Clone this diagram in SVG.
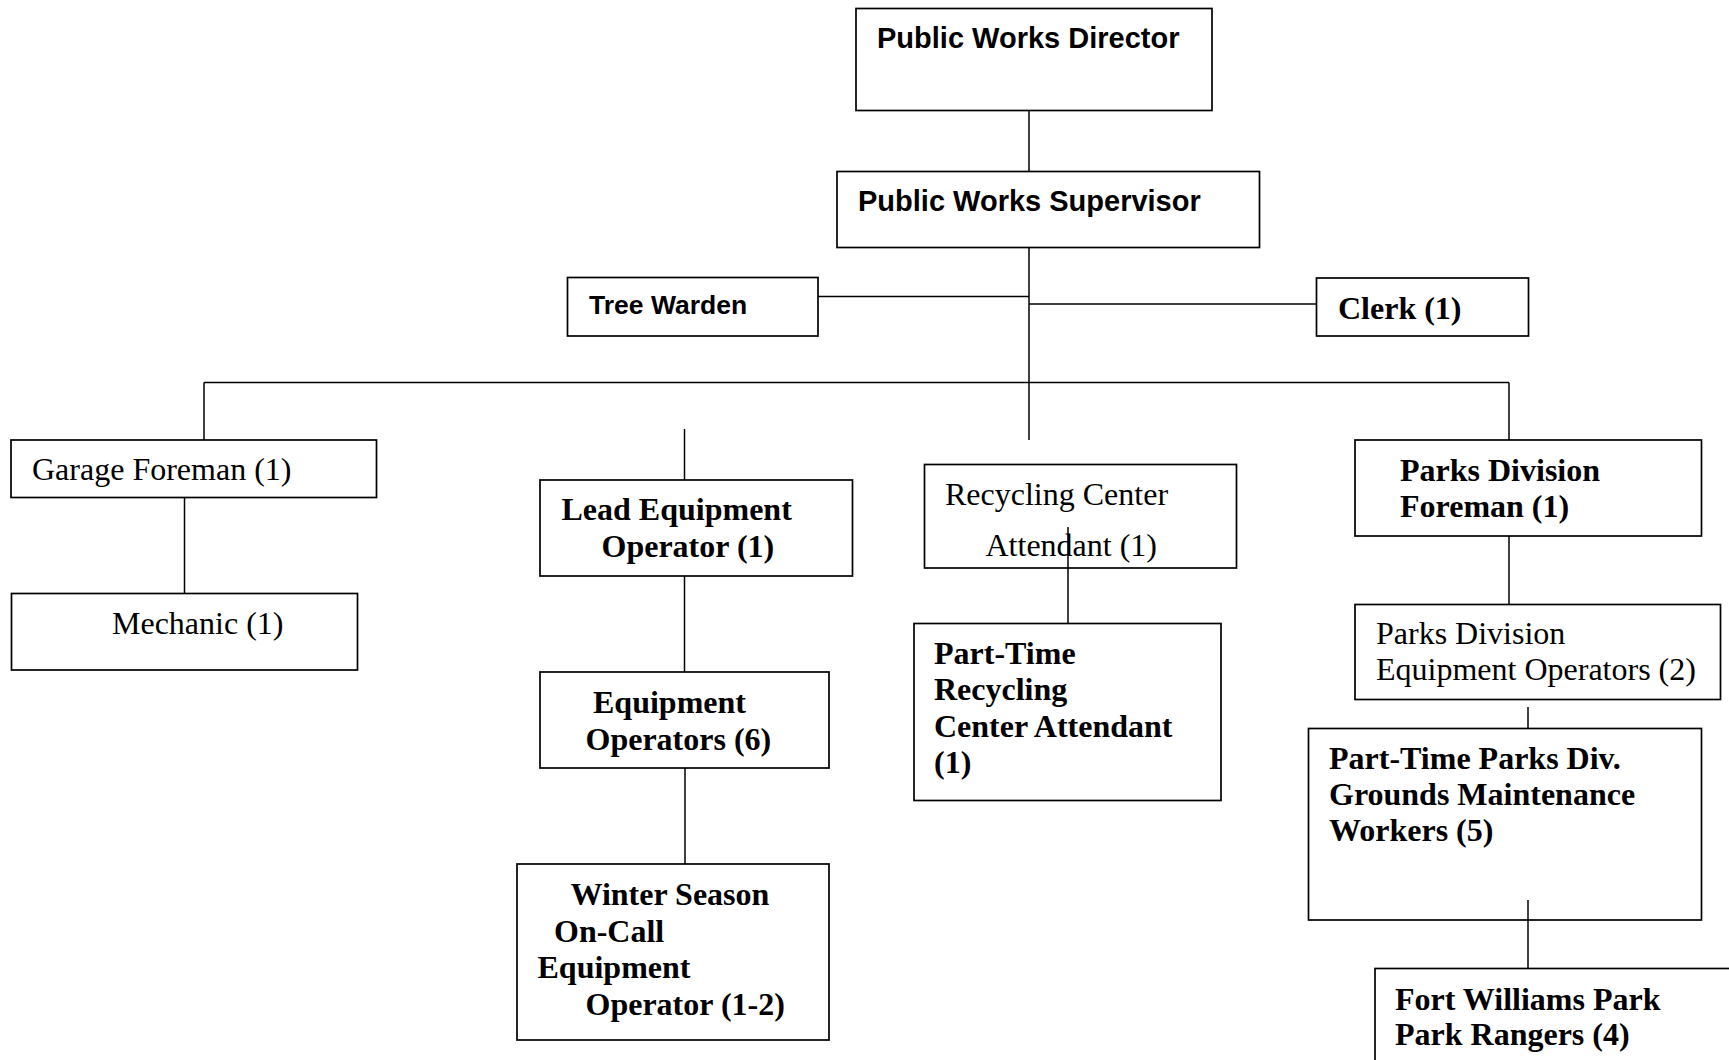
<svg xmlns="http://www.w3.org/2000/svg" width="1729" height="1060" viewBox="0 0 1729 1060">
<style>
.box{fill:#fff;stroke:#000;stroke-width:1.7}
.ln{stroke:#000;stroke-width:1.5;fill:none}
.sans{font-family:"Liberation Sans",Arial,sans-serif;font-weight:bold;fill:#000}
.ser{font-family:"Liberation Serif","Times New Roman",serif;font-size:32px;fill:#000}
.b{font-weight:bold}
</style>
<rect width="1729" height="1060" fill="#fff"/>
<g id="connectors">
<line class="ln" x1="1029" y1="110.5" x2="1029" y2="171.5"/>
<line class="ln" x1="1029" y1="247.5" x2="1029" y2="440"/>
<line class="ln" x1="818" y1="296.5" x2="1029" y2="296.5"/>
<line class="ln" x1="1029" y1="304" x2="1316.5" y2="304"/>
<line class="ln" x1="204" y1="382.5" x2="1509" y2="382.5"/>
<line class="ln" x1="204" y1="382.5" x2="204" y2="440"/>
<line class="ln" x1="1509" y1="382.5" x2="1509" y2="440"/>
<line class="ln" x1="184.5" y1="497.5" x2="184.5" y2="593.5"/>
<line class="ln" x1="684.5" y1="429" x2="684.5" y2="480"/>
<line class="ln" x1="684.5" y1="576" x2="684.5" y2="672"/>
<line class="ln" x1="685" y1="768" x2="685" y2="864"/>
<line class="ln" x1="1509" y1="536" x2="1509" y2="604.5"/>
<line class="ln" x1="1528" y1="707" x2="1528" y2="728.5"/>
</g>
<g id="director">
<rect class="box" x="856" y="8.5" width="356" height="102"/>
<text class="sans" x="877" y="47.5" font-size="29">Public Works Director</text>
</g>
<g id="supervisor">
<rect class="box" x="837" y="171.5" width="422.5" height="76"/>
<text class="sans" x="858" y="211" font-size="29">Public Works Supervisor</text>
</g>
<g id="tree-warden">
<rect class="box" x="567.5" y="277.5" width="250.5" height="58.5"/>
<text class="sans" x="589" y="314" font-size="26.5">Tree Warden</text>
</g>
<g id="clerk">
<rect class="box" x="1316.5" y="278" width="212" height="58"/>
<text class="ser b" x="1338" y="319" font-size="31.5">Clerk (1)</text>
</g>
<g id="garage-foreman">
<rect class="box" x="11" y="440" width="365.5" height="57.5"/>
<text class="ser" x="32" y="480">Garage Foreman (1)</text>
</g>
<g id="mechanic">
<rect class="box" x="11.5" y="593.5" width="346" height="76.5"/>
<text class="ser" x="112" y="633.5">Mechanic (1)</text>
</g>
<g id="lead-equipment-operator">
<rect class="box" x="540" y="480" width="312.5" height="96"/>
<text class="ser b" x="561.5" y="520">Lead Equipment</text>
<text class="ser b" x="601.5" y="556.5">Operator (1)</text>
</g>
<g id="equipment-operators">
<rect class="box" x="540" y="672" width="289" height="96"/>
<text class="ser b" x="593" y="713">Equipment</text>
<text class="ser b" x="585.5" y="750">Operators (6)</text>
</g>
<g id="winter-season">
<rect class="box" x="517" y="864" width="312" height="176"/>
<text class="ser b" x="570.5" y="905">Winter Season</text>
<text class="ser b" x="554" y="941.5">On-Call</text>
<text class="ser b" x="537.5" y="978">Equipment</text>
<text class="ser b" x="585.5" y="1015">Operator (1-2)</text>
</g>
<g id="recycling-center-attendant">
<rect class="box" x="924.5" y="464.5" width="312" height="103.5"/>
<text class="ser" x="945" y="504.5">Recycling Center</text>
<text class="ser" x="985.5" y="556">Attendant (1)</text>
</g>
<g id="part-time-recycling">
<rect class="box" x="914" y="623.5" width="307" height="177"/>
<text class="ser b" x="934" y="664">Part-Time</text>
<text class="ser b" x="934" y="700">Recycling</text>
<text class="ser b" x="934" y="736.5">Center Attendant</text>
<text class="ser b" x="934" y="772.5">(1)</text>
</g>
<g id="parks-division-foreman">
<rect class="box" x="1355" y="440" width="346.5" height="96"/>
<text class="ser b" x="1400" y="480.5">Parks Division</text>
<text class="ser b" x="1400" y="516.5">Foreman (1)</text>
</g>
<g id="parks-division-equipment-operators">
<rect class="box" x="1355" y="604.5" width="365.5" height="95"/>
<text class="ser" x="1376" y="643.5">Parks Division</text>
<text class="ser" x="1376" y="679.5">Equipment Operators (2)</text>
</g>
<g id="part-time-parks">
<rect class="box" x="1308.5" y="728.5" width="393" height="191.5"/>
<text class="ser b" x="1329" y="768.5">Part-Time Parks Div.</text>
<text class="ser b" x="1329" y="805">Grounds Maintenance</text>
<text class="ser b" x="1329" y="841">Workers (5)</text>
</g>
<g id="fort-williams">
<rect class="box" x="1375" y="968.5" width="380" height="120"/>
<text class="ser b" x="1395" y="1009.5">Fort Williams Park</text>
<text class="ser b" x="1395" y="1045">Park Rangers (4)</text>
</g>
<g id="connectors-overlay">
<line class="ln" x1="1068" y1="527" x2="1068" y2="623.5"/>
<line class="ln" x1="1528" y1="900" x2="1528" y2="968.5"/>
</g>
</svg>
